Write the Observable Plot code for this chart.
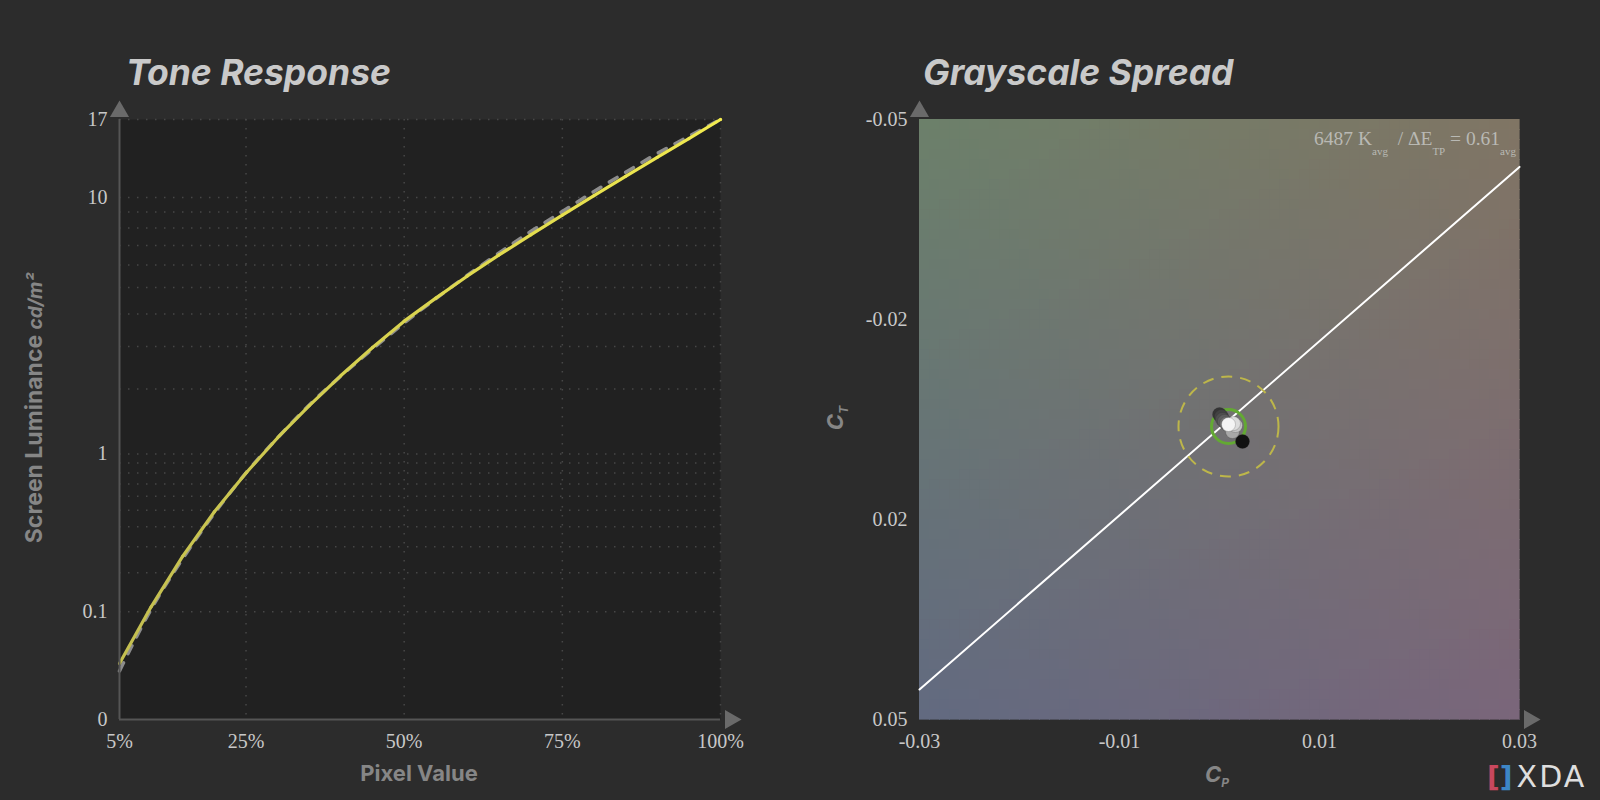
<!DOCTYPE html>
<html><head><meta charset="utf-8">
<script src="https://cdn.jsdelivr.net/npm/d3@7"></script>
<script src="https://cdn.jsdelivr.net/npm/@observablehq/plot@0.6"></script>
<style>
body{margin:0;background:#2c2c2c;}
#wrap{position:relative;width:1600px;height:800px;overflow:hidden;background:#2c2c2c;font-family:Inter,'Noto Sans',sans-serif;}
.panel{position:absolute;top:0;width:800px;height:800px;}
.title{position:absolute;font-weight:700;font-style:italic;font-size:35.5px;color:#c9c9c9;white-space:nowrap;line-height:1;}
.axlab{position:absolute;font-weight:700;font-size:22px;color:#868686;white-space:nowrap;line-height:1;transform:translate(-50%,-50%);}
.rot{transform:translate(-50%,-50%) rotate(-90deg);}
.note{position:absolute;right:84px;top:129px;font-family:'Liberation Serif',serif;font-size:19.5px;color:#b9b9b4;white-space:nowrap;line-height:1;}
.note sub{font-size:11px;vertical-align:-10px;}
.logo{position:absolute;left:1487px;top:762px;white-space:nowrap;line-height:1;font-family:'DejaVu Sans',sans-serif;}
</style></head>
<body>
<div id="wrap">
  <div id="left" class="panel" style="left:0"></div>
  <div id="right" class="panel" style="left:800px"></div>
  <div class="title" style="left:126px;top:55px">Tone Response</div>
  <div class="title" style="left:923px;top:55px">Grayscale Spread</div>
  <div class="axlab" style="left:419px;top:773px">Pixel Value</div>
  <div class="axlab rot" style="left:34px;top:408px;font-size:23px">Screen Luminance <span style="font-style:italic;font-size:19px">cd/m²</span></div>
  <div class="axlab" style="left:1217px;top:776px"><i>C</i><sub style="font-size:12px;font-style:italic">P</sub></div>
  <div class="axlab rot" style="left:837px;top:418px"><i>C</i><sub style="font-size:12px;font-style:italic">T</sub></div>
  <div class="note">6487 K<sub>avg</sub>&nbsp; / ΔE<sub>TP</sub> = 0.61<sub>avg</sub></div>
  <div class="logo"><span style="color:#c9485e;font-size:28px;font-weight:700">[</span><span style="color:#3d86c6;font-size:28px;font-weight:700">]</span><span style="color:#dedede;font-size:30px;letter-spacing:2px;margin-left:4px">XDA</span></div>
</div>
<script>
// ---------- Tone Response data ----------
const pixelPct = [5,10,15,20,25,30,35,40,45,50,55,60,65,70,75,80,85,90,95,100];
const measuredLum = [0.03,0.11,0.26,0.49,0.80,1.20,1.69,2.28,2.97,3.76,4.58,5.50,6.50,7.59,8.80,10.13,11.61,13.23,15.01,17.0];
const referenceLum = [0.024,0.105,0.25,0.48,0.8,1.2,1.7,2.27,2.93,3.7,4.56,5.53,6.6,7.78,9.03,10.44,11.94,13.58,15.24,17.0];
const pctDomain = [5, 100];
const lumDomain = [0, 17];
const pctTicks = [5, 25, 50, 75, 100];
const pctGrid = [25, 50, 75, 100];
const lumTicks = [0, 0.1, 1, 10, 17];
const lumTickLabels = ["0", "0.1", "1", "10", "17"];
const lumGrid = [0.1,0.2,0.3,0.4,0.5,0.6,0.7,0.8,0.9,1,2,3,4,5,6,7,8,9,10,17];
const lineColors = ["#c4bf50", "#f3ec4f"];

// ---------- Grayscale Spread data ----------
const cpDomain = [-0.03, 0.03];
const ctDomain = [-0.05, 0.05];
const cpTicks = [-0.03, -0.01, 0.01, 0.03];
const ctTicks = [-0.05, -0.0167, 0.0167, 0.05];
const ctTickLabels = ["-0.05", "-0.02", "0.02", "0.05"];
const grayLevels = [0, 10, 20, 30, 40, 50, 60, 70, 80, 90, 100];
const grayCp = [0.0023, 0.0000, 0.0002, 0.0003, 0.0005, 0.0007, 0.0010, 0.0013, 0.0016, 0.0014, 0.0009];
const grayCt = [0.00367, -0.00083, -0.0005, 0.0, 0.00033, 0.00067, 0.00117, 0.002, 0.001, 0.00067, 0.00083];
const grayFill = ["#111111","#353535","#424242","#4f4f4f","#5e5e5e","#707070","#8a8a8a","#a8a8a8","#c4c4c4","#dcdcdc","#f4f4f4"];
const targetCp = [0.0009];
const targetCt = [0.00117];
const whiteLineCp = [-0.03, 0.03];
const whiteLineCt = [0.045, -0.0421];
const bgCorners = { tl: [108,128,106], tr: [128,117,100], bl: [98,106,128], br: [122,102,122] };

// luminance axis transform (perceptual-like)
const tf = L => Math.pow(L + 0.01, 0.2);

const serif = "'Liberation Serif', serif";
const baseStyle = {background: "transparent", color: "#c8c8c8", fontFamily: serif, fontSize: "20px"};

const measured = pixelPct.map((p, i) => ({p, L: measuredLum[i]}));
const reference = pixelPct.map((p, i) => ({p, L: referenceLum[i]}));
const lumLabelMap = new Map(lumTicks.map((v, i) => [tf(v), lumTickLabels[i]]));

const left = Plot.plot({
  width: 800, height: 800,
  marginLeft: 119, marginRight: 80, marginTop: 119, marginBottom: 81,
  style: baseStyle,
  x: {domain: pctDomain},
  y: {domain: lumDomain.map(tf)},
  color: {type: "linear", domain: pctDomain, range: lineColors},
  marks: [
    Plot.frame({fill: "#212121"}),
    Plot.ruleY(lumGrid, {y: d => tf(d), stroke: "#474747", strokeWidth: 1.5, strokeDasharray: "1.5,7.5"}),
    Plot.ruleX(pctGrid, {x: d => d, stroke: "#474747", strokeWidth: 1.5, strokeDasharray: "1.5,7.5"}),
    Plot.line(reference, {x: "p", y: d => tf(d.L), stroke: "#8c8c8c", strokeWidth: 3.5, strokeDasharray: "9,10", curve: "monotone-x"}),
    Plot.line(measured, {x: "p", y: d => tf(d.L), stroke: "p", z: null, strokeWidth: 3.2, curve: "monotone-x"}),
    Plot.ruleX([pctDomain[0]], {x: d => d, stroke: "#555", strokeWidth: 2}),
    Plot.ruleY([lumDomain[0]], {y: d => tf(d), stroke: "#555", strokeWidth: 2}),
    Plot.dot([0], {x: () => pctDomain[0], y: () => tf(lumDomain[1]), symbol: "triangle", r: 7.1, fill: "#6a6a6a", dy: -8}),
    Plot.dot([0], {x: () => pctDomain[1], y: () => tf(lumDomain[0]), symbol: "triangle", r: 7.1, fill: "#6a6a6a", rotate: 90, dx: 10}),
    Plot.axisX({ticks: pctTicks, tickFormat: d => d + "%", tickSize: 0, tickPadding: 14, label: null}),
    Plot.axisY({ticks: lumTicks.map(tf), tickFormat: d => lumLabelMap.get(d), tickSize: 0, tickPadding: 12, label: null})
  ]
});
document.getElementById("left").appendChild(left);

// background cells (bilinear blend of corner tints)
const nx = 60, ny = 60, cells = [];
const mix = (u, v) => {
  const c = [0,1,2].map(k => Math.round(
    bgCorners.tl[k]*(1-u)*(1-v) + bgCorners.tr[k]*u*(1-v) + bgCorners.bl[k]*(1-u)*v + bgCorners.br[k]*u*v));
  return `rgb(${c[0]},${c[1]},${c[2]})`;
};
for (let i = 0; i < nx; i++) for (let j = 0; j < ny; j++) {
  const x1 = cpDomain[0] + (cpDomain[1]-cpDomain[0]) * i / nx, x2 = cpDomain[0] + (cpDomain[1]-cpDomain[0]) * (i+1) / nx;
  const y1 = ctDomain[0] + (ctDomain[1]-ctDomain[0]) * j / ny, y2 = ctDomain[0] + (ctDomain[1]-ctDomain[0]) * (j+1) / ny;
  cells.push({x1, x2, y1, y2, c: mix((i+0.5)/nx, (j+0.5)/ny)});
}
const grays = grayLevels.map((g, i) => ({cp: grayCp[i], ct: grayCt[i], f: grayFill[i]}));
const target = targetCp.map((c, i) => ({cp: c, ct: targetCt[i]}));
const wline = whiteLineCp.map((c, i) => ({cp: c, ct: whiteLineCt[i]}));
const ctLabelMap = new Map(ctTicks.map((v, i) => [v, ctTickLabels[i]]));

const right = Plot.plot({
  width: 800, height: 800,
  marginLeft: 119, marginRight: 81, marginTop: 119, marginBottom: 81,
  style: baseStyle,
  x: {domain: cpDomain},
  y: {domain: ctDomain, reverse: true},
  color: {type: "identity"},
  marks: [
    Plot.rect(cells, {x1: "x1", x2: "x2", y1: "y1", y2: "y2", fill: "c", shapeRendering: "crispEdges", stroke: "c", strokeWidth: 0.6}),
    Plot.line(wline, {x: "cp", y: "ct", stroke: "white", strokeWidth: 2}),
    Plot.dot(target, {x: "cp", y: "ct", r: 50, stroke: "#bdb64a", strokeWidth: 2, strokeDasharray: "11,8"}),
    Plot.dot(target, {x: "cp", y: "ct", r: 17, stroke: "#63a933", strokeWidth: 3}),
    Plot.dot(grays, {x: "cp", y: "ct", r: 7, fill: "f", stroke: "#2a2a2a", strokeOpacity: 0.35, strokeWidth: 0.6}),
    Plot.dot([0], {x: () => cpDomain[0], y: () => ctDomain[0], symbol: "triangle", r: 7.1, fill: "#6a6a6a", dy: -8}),
    Plot.dot([0], {x: () => cpDomain[1], y: () => ctDomain[1], symbol: "triangle", r: 7.1, fill: "#6a6a6a", rotate: 90, dx: 10}),
    Plot.axisX({ticks: cpTicks, tickFormat: d => d.toFixed(2), tickSize: 0, tickPadding: 14, label: null}),
    Plot.axisY({ticks: ctTicks, tickFormat: d => ctLabelMap.get(d), tickSize: 0, tickPadding: 12, label: null})
  ]
});
document.getElementById("right").appendChild(right);
</script>
</body></html>
